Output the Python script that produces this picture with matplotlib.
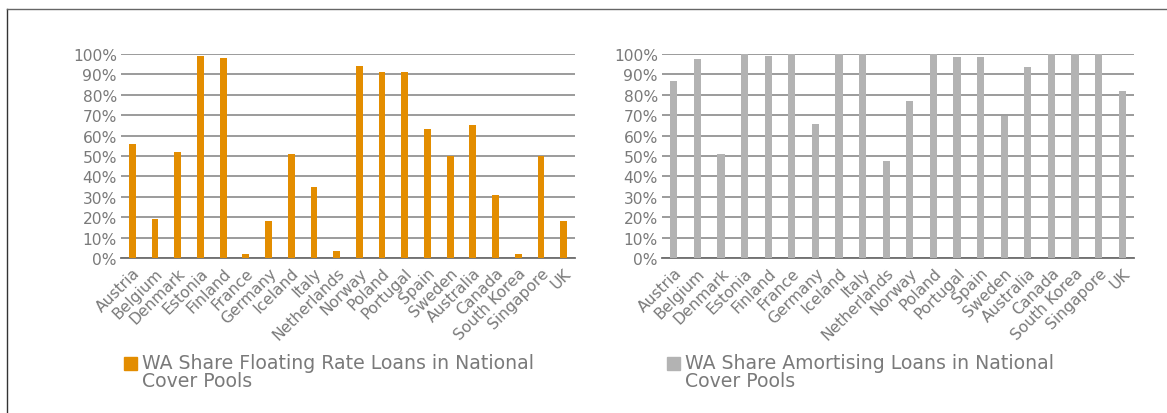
import matplotlib
matplotlib.use("Agg")
import matplotlib.pyplot as plt
from matplotlib.patches import Rectangle
from matplotlib.lines import Line2D
from matplotlib.ticker import PercentFormatter

countries = ["Austria", "Belgium", "Denmark", "Estonia", "Finland", "France",
             "Germany", "Iceland", "Italy", "Netherlands", "Norway", "Poland",
             "Portugal", "Spain", "Sweden", "Australia", "Canada",
             "South Korea", "Singapore", "UK"]
floating = [56, 19, 52, 99, 98, 2, 18, 51, 35, 3.5, 94, 91, 91, 63, 50, 65,
            31, 2, 50, 18]
amortising = [87, 97.5, 51, 100, 99, 100, 65.5, 100, 100, 47.5, 77, 100,
              98.7, 98.7, 69.5, 93.6, 100, 100, 100, 82]
yticks = [0, 10, 20, 30, 40, 50, 60, 70, 80, 90, 100]
label_float = "WA Share Floating Rate Loans in National\nCover Pools"
label_amort = "WA Share Amortising Loans in National\nCover Pools"

plt.rcParams['font.family'] = ['DejaVu Sans']
W, H = 1167, 414
fig = plt.figure(figsize=(W / 100, H / 100), dpi=100)

TXT = "#7a7a7a"
FS = 11.2


def px(x0, y0, x1, y1):
    return [x0 / W, 1 - y1 / H, (x1 - x0) / W, (y1 - y0) / H]


def draw(rect, values, color, label, legend_x):
    ax = fig.add_axes(rect)
    xs = range(len(countries))
    ax.bar(xs, values, width=0.3, color=color, zorder=3,
           edgecolor="none")
    ax.set_ylim(0, 100)
    ax.set_xlim(-0.5, len(countries) - 0.5)
    ax.set_yticks(yticks)
    ax.yaxis.set_major_formatter(PercentFormatter(decimals=0))
    ax.set_xticks(list(xs))
    ax.set_xticklabels(countries, rotation=45, ha="right",
                       rotation_mode="anchor", fontsize=FS, color=TXT)
    ax.tick_params(axis="both", length=0, labelsize=FS, labelcolor=TXT)
    ax.tick_params(axis="x", pad=5)
    ax.tick_params(axis="y", pad=3)
    for s in ["top", "right", "left"]:
        ax.spines[s].set_visible(False)
    ax.spines["bottom"].set_color("#6e6e6e")
    ax.spines["bottom"].set_linewidth(1.3)
    ax.grid(axis="y", color="#8a8a8a", linewidth=1.2, zorder=0)
    ax.set_axisbelow(True)
    # legend
    fig.patches.append(Rectangle((legend_x / W, 1 - 371 / H), 13 / W, 13 / H,
                                 transform=fig.transFigure, color=color))
    fig.text((legend_x + 18) / W, 1 - 354.5 / H, label, fontsize=13.6,
             color=TXT, va="top", ha="left", linespacing=0.93)
    return ax


draw(px(121, 55, 575, 259), floating, "#e38d00", label_float, 124)
draw(px(662, 55, 1134, 259), amortising, "#b3b3b3", label_amort, 667)

# outer frame lines
fig.add_artist(Line2D([7 / W, 7 / W], [0, 1 - 10 / H], transform=fig.transFigure,
                      color="#333333", linewidth=1.0))
fig.add_artist(Line2D([7 / W, 1], [1 - 10 / H, 1 - 10 / H], transform=fig.transFigure,
                      color="#666666", linewidth=1.0))

fig.savefig("out.png", dpi=100)
